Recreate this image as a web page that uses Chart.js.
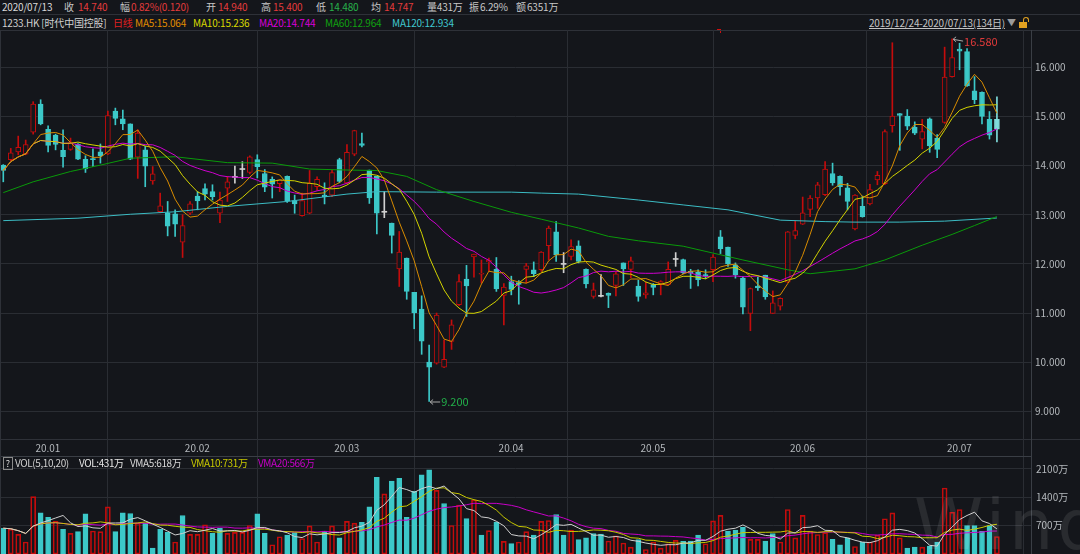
<!DOCTYPE html>
<html>
<head>
<meta charset="utf-8">
<title>1233.HK 时代中国控股 日线</title>
<script src="https://cdn.jsdelivr.net/npm/chart.js@4.4.1/dist/chart.umd.min.js"></script>
<style>
  body { margin: 0; background: #14161b; }
  #wrap { position: relative; width: 1080px; height: 554px; overflow: hidden; background: #14161b;
          font-family: "Noto Sans CJK SC", sans-serif; font-size: 10px; color: #c8c8c8; }
  .t { position: absolute; white-space: nowrap; line-height: 14px; letter-spacing: -0.2px; }
  .hl { position: absolute; left: 0; width: 1080px; height: 1px; background: #2e3138; }
  .r { color: #e23b3b; }
  .g { color: #27b04a; }
  canvas { position: absolute; left: 0; }
</style>
</head>
<body>
<div id="wrap">
  <!-- header row 1 -->
  <div class="t" style="top:0;left:2px;color:#d8d8d8">2020/07/13</div>
  <div class="t" style="top:0;left:64px">收</div>
  <div class="t r" style="top:0;left:78px">14.740</div>
  <div class="t" style="top:0;left:120px">幅</div>
  <div class="t r" style="top:0;left:131px">0.82%(0.120)</div>
  <div class="t" style="top:0;left:206px">开</div>
  <div class="t r" style="top:0;left:218px">14.940</div>
  <div class="t" style="top:0;left:261px">高</div>
  <div class="t r" style="top:0;left:273px">15.400</div>
  <div class="t" style="top:0;left:316px">低</div>
  <div class="t g" style="top:0;left:329px">14.480</div>
  <div class="t" style="top:0;left:371px">均</div>
  <div class="t r" style="top:0;left:384px">14.747</div>
  <div class="t" style="top:0;left:427px">量431万</div>
  <div class="t" style="top:0;left:469px">振</div>
  <div class="t" style="top:0;left:480px">6.29%</div>
  <div class="t" style="top:0;left:516px">额</div>
  <div class="t" style="top:0;left:527px">6351万</div>
  <div class="hl" style="top:14px"></div>

  <!-- header row 2 -->
  <div class="t" style="top:16px;left:2px;color:#d0d0d0">1233.HK [时代中国控股]</div>
  <div class="t" style="top:16px;left:113px;color:#e02020">日线</div>
  <div class="t" style="top:16px;left:135px;color:#e08c00">MA5:15.064</div>
  <div class="t" style="top:16px;left:193px;color:#d8d800">MA10:15.236</div>
  <div class="t" style="top:16px;left:259px;color:#d800d8">MA20:14.744</div>
  <div class="t" style="top:16px;left:325px;color:#10a010">MA60:12.964</div>
  <div class="t" style="top:16px;left:392px;color:#40c8d0">MA120:12.934</div>
  <div class="t" style="top:16px;left:869px;color:#c4c4c4;text-decoration:underline">2019/12/24-2020/07/13(134日)</div>
  <div class="t" style="top:16px;left:1007px;color:#9a9a9a;font-size:9px">▼</div>
  <div style="position:absolute;left:1023px;top:17px;width:4px;height:4px;border:1.5px solid #e0a020;border-bottom:none;border-radius:3px 3px 0 0"></div>
  <div style="position:absolute;left:1019px;top:22px;width:8px;height:6px;background:#e0a020"></div>
  <div style="position:absolute;left:717px;top:29px;width:4px;height:1px;background:#d01010"></div>
  <div style="position:absolute;left:720px;top:29px;width:1px;height:4px;background:#d01010"></div>
  <div class="hl" style="top:30px"></div>

  <canvas id="kline" width="1080" height="409" style="top:30px"></canvas>
  <div class="hl" style="top:439px"></div>
  <div style="position:absolute;left:1031px;top:439px;width:1px;height:17px;background:#3a3e45"></div>

  <canvas id="vol" width="1080" height="115" style="top:439px"></canvas>

  <!-- volume legend -->
  <div style="position:absolute;left:3px;top:457px;width:8px;height:11px;border:1px solid #8a8a8a;color:#e0e0e0;font-size:9px;line-height:11px;text-align:center">?</div>
  <div class="t" style="top:456px;left:15px;color:#d0d0d0;letter-spacing:-0.4px">VOL(5,10,20)</div>
  <div class="t" style="top:456px;left:79px;color:#e6e6e6;letter-spacing:-0.4px">VOL:431万</div>
  <div class="t" style="top:456px;left:130px;color:#d8d8d8;letter-spacing:-0.4px">VMA5:618万</div>
  <div class="t" style="top:456px;left:191px;color:#c8c800;letter-spacing:-0.4px">VMA10:731万</div>
  <div class="t" style="top:456px;left:258px;color:#c800c8;letter-spacing:-0.4px">VMA20:566万</div>

  <div style="position:absolute;left:914px;top:490px;font-family:'DejaVu Sans',sans-serif;font-size:70px;line-height:70px;color:rgba(255,255,255,0.09);letter-spacing:4px">Wind</div>
  <div style="position:absolute;left:0;top:30px;width:1px;height:524px;background:#2e3138"></div>
</div>

<script>
// month ticks (first trading day of each month)
const monthLabels = ['20.01', '20.02', '20.03', '20.04', '20.05', '20.06', '20.07'];
const monthStart = [4, 24, 44, 66, 85, 105, 126];
const priceTicks = [9, 10, 11, 12, 13, 14, 15, 16];
const volTicks = [700, 1400, 2100];

// daily prices, 2019/12/24 - 2020/07/13 (134 days)
const opens = [14.01,14.12,14.28,14.23,14.68,15.25,14.74,14.62,14.31,14.33,14.44,14.13,14.14,14.28,14.24,15.11,14.95,14.85,14.17,14.32,
  13.69,13.06,13.04,13.02,12.44,13.03,13.38,13.53,13.47,13.03,13.54,13.76,13.92,13.86,14.12,13.84,13.72,13.63,13.78,13.29,
  12.98,13.03,13.57,13.40,13.40,14.12,13.65,14.23,14.45,13.91,13.78,13.05,12.83,11.90,12.12,11.42,11.08,10.00,9.98,9.90,
  10.42,11.17,11.69,12.14,11.79,12.04,11.89,11.36,11.64,11.62,11.89,11.88,11.88,12.37,12.65,11.99,12.15,12.37,11.89,11.34,
  11.34,11.40,11.56,12.02,11.89,11.55,11.37,11.58,11.58,11.58,12.09,12.09,11.85,11.83,11.78,11.88,12.55,12.34,11.98,11.71,
  10.99,11.55,11.77,10.99,11.14,11.63,12.58,12.81,13.11,13.34,13.41,13.84,13.78,13.55,12.71,13.17,13.22,13.71,13.63,14.81,
  15.06,15.01,14.78,14.54,14.95,14.56,14.88,15.81,16.37,16.32,15.52,15.49,14.94,14.94];
const highs = [14.02,14.35,14.60,14.52,15.30,15.34,14.81,14.64,14.73,14.56,14.45,14.20,14.34,14.44,15.11,15.17,15.13,14.85,14.73,14.39,
  13.98,13.44,13.27,13.10,13.00,13.27,13.47,13.63,13.61,13.46,13.78,13.99,14.08,14.20,14.22,13.92,13.77,13.71,13.79,13.40,
  13.44,13.90,13.77,13.65,13.91,14.15,14.43,14.72,14.66,13.91,13.78,13.47,12.83,12.66,12.12,11.42,11.35,10.35,11.00,10.45,
  10.86,11.78,11.97,12.20,12.08,12.12,12.13,11.60,11.75,11.66,12.01,12.04,12.25,12.77,12.86,12.23,12.49,12.47,11.90,11.61,
  11.78,11.41,11.84,12.02,12.14,11.67,11.63,11.60,11.66,12.04,12.23,12.10,11.89,11.88,11.88,12.19,12.68,12.34,12.02,11.74,
  11.51,11.73,11.77,11.45,11.31,12.66,12.87,13.36,13.39,13.66,14.08,14.05,13.79,13.64,13.41,13.38,13.62,13.88,14.73,16.50,
  15.06,15.14,14.89,14.94,14.97,14.63,16.41,16.58,16.49,16.38,15.81,15.50,15.10,15.40];
const lows = [13.67,14.10,14.22,14.22,14.64,14.83,14.28,14.32,13.97,14.31,14.12,13.86,13.98,14.05,14.22,14.83,14.73,14.12,13.74,13.57,
  13.62,13.04,12.57,12.56,12.13,13.00,13.10,13.30,13.30,12.84,13.27,13.64,13.74,13.83,13.75,13.47,13.34,13.47,13.25,13.03,
  12.97,13.02,13.50,13.22,13.37,13.65,13.63,14.20,14.38,13.23,12.61,12.94,12.22,11.54,11.28,10.68,10.16,9.20,9.96,9.89,
  10.26,11.15,10.93,11.73,11.61,11.85,11.44,10.76,11.37,11.18,11.61,11.74,11.85,12.08,12.05,11.82,12.08,12.02,11.51,11.30,
  11.33,11.11,11.35,11.56,11.72,11.24,11.30,11.37,11.37,11.57,11.95,11.80,11.50,11.55,11.70,11.64,12.21,11.95,11.71,10.98,
  10.64,11.46,11.28,10.99,11.06,11.62,12.51,12.80,12.96,13.13,13.39,13.60,13.40,13.10,12.69,12.95,13.20,13.61,13.61,14.68,
  14.31,14.73,14.63,14.34,14.27,14.16,14.86,15.80,15.95,15.61,15.26,14.85,14.54,14.48];
const closes = [13.90,14.26,14.37,14.43,15.25,14.85,14.41,14.43,14.18,14.47,14.13,13.93,14.12,14.20,15.02,14.96,14.85,14.13,14.66,13.99,
  13.83,13.18,12.77,12.81,12.78,13.22,13.28,13.42,13.37,13.30,13.67,13.76,13.92,14.18,13.98,13.56,13.62,13.71,13.28,13.22,
  13.29,13.64,13.72,13.37,13.86,13.68,14.27,14.71,14.41,13.34,13.03,13.05,12.58,12.24,11.44,11.00,10.43,9.90,10.96,10.06,
  10.76,11.64,11.55,12.20,11.80,12.07,11.49,11.53,11.48,11.58,11.96,11.80,12.24,12.73,12.19,11.99,12.35,12.05,11.59,11.47,
  11.34,11.36,11.80,11.90,12.06,11.34,11.41,11.52,11.64,11.89,12.09,11.82,11.81,11.68,11.75,12.14,12.31,12.00,11.78,11.12,
  11.50,11.51,11.33,11.21,11.30,12.65,12.68,13.04,13.34,13.61,13.93,13.65,13.57,13.27,13.40,12.96,13.51,13.80,14.69,15.01,
  15.02,14.80,14.66,14.69,14.40,14.33,15.80,16.20,16.33,15.62,15.34,15.00,14.62,14.74];
// volume, 万股
const vols = [635,610,483,296,1414,1016,906,805,610,508,550,991,567,550,1160,550,1016,999,762,762,
  144,610,534,296,949,483,483,720,508,635,508,534,534,703,991,508,229,424,466,525,
  381,695,296,567,695,398,805,762,779,1160,1889,1482,1796,1863,906,1542,1948,2075,1567,1245,
  703,1203,872,1330,466,576,788,313,254,296,550,466,805,826,969,464,590,354,396,506,
  489,320,447,270,169,354,110,295,143,253,337,312,320,464,253,818,953,565,590,658,
  362,362,320,506,295,1096,396,953,565,480,523,362,228,396,185,295,295,464,868,1012,
  396,143,169,169,194,295,1627,1028,1096,700,700,560,700,431];

// long averages (they need history before the window)
const ma60Idx = [0,4,9,13,17,23,30,36,41,46,50,54,58,63,68,72,77,81,85,91,99,105,108,114,118,123,127,130,133];
const ma60Val = [13.45,13.67,13.88,14.01,14.15,14.18,14.06,14.05,13.93,13.91,13.90,13.78,13.51,13.27,13.05,12.91,12.73,12.56,12.47,12.36,
  12.08,11.88,11.80,11.90,12.08,12.38,12.60,12.78,12.964];
const ma120Idx = [0,10,17,23,30,38,46,50,58,68,72,77,85,91,97,104,110,114,120,126,133];
const ma120Val = [12.88,12.93,13.01,13.06,13.17,13.27,13.42,13.47,13.46,13.46,13.44,13.42,13.30,13.20,13.10,12.89,12.86,12.85,12.85,12.87,12.934];

const RED = '#c40c0c';
const CYAN = '#3cc8c8';
const CYAN_SEL = '#7fdcdc';
const DOJI = '#d0d0d0';
const BG = '#14161b';
const GRID = '#2a2d33';
const AXIS = '#3a3e45';
const TXT = '#b4b8bc';
const selected = closes.length - 1;

Chart.defaults.font.family = '"Noto Sans CJK SC", sans-serif';
Chart.defaults.font.size = 10;

function movingAvg(src, n) {
  return src.map((v, i) => {
    const win = src.slice(Math.max(0, i - n + 1), i + 1);
    return win.reduce((a, b) => a + b, 0) / win.length;
  });
}

function pts(arr) { return arr.map((v, i) => ({ x: i, y: v })); }

function candleColor(i) {
  if (closes[i] > opens[i]) return RED;
  if (closes[i] < opens[i]) return i === selected ? CYAN_SEL : CYAN;
  return DOJI;
}

// volume colour follows the change against the previous close
function volUp(i) {
  return i === 0 ? closes[0] > opens[0] : closes[i] >= closes[i - 1];
}

function maLine(data, color) {
  return { type: 'line', data: data, borderColor: color, borderWidth: 1, pointRadius: 0, tension: 0, order: 0 };
}

// max / min price marks
const extremes = {
  id: 'extremes',
  afterDatasetsDraw(chart) {
    const { ctx, scales: { x, y } } = chart;
    const hi = highs.indexOf(Math.max(...highs));
    const lo = lows.indexOf(Math.min(...lows));
    mark(ctx, x.getPixelForValue(hi), y.getPixelForValue(highs[hi]), highs[hi].toFixed(3), '#e03a3a', 3);
    mark(ctx, x.getPixelForValue(lo), y.getPixelForValue(lows[lo]), lows[lo].toFixed(3), '#22b04a', 0);
  }
};

function mark(ctx, px, py, text, color, dy) {
  ctx.save();
  ctx.strokeStyle = '#a8a8a8';
  ctx.lineWidth = 1;
  ctx.beginPath();
  ctx.moveTo(px + 1, py + 0.5);
  ctx.lineTo(px + 11, py + 0.5 + dy * 0.6);
  ctx.moveTo(px + 4, py - 2);
  ctx.lineTo(px + 1, py + 0.5);
  ctx.lineTo(px + 4, py + 3);
  ctx.stroke();
  ctx.fillStyle = color;
  ctx.font = '11px "Noto Sans CJK SC", sans-serif';
  ctx.textBaseline = 'middle';
  ctx.fillText(text, px + 12, py + dy);
  ctx.restore();
}

const ma5 = movingAvg(closes, 5);
const ma10 = movingAvg(closes, 10);
const ma20 = movingAvg(closes, 20);

new Chart(document.getElementById('kline'), {
  type: 'bar',
  data: {
    datasets: [
      maLine(pts(ma5), '#d98c00'),
      maLine(pts(ma10), '#d4d400'),
      maLine(pts(ma20), '#d000d0'),
      maLine(ma60Idx.map((v, k) => ({ x: v, y: ma60Val[k] })), '#0a9a0a'),
      maLine(ma120Idx.map((v, k) => ({ x: v, y: ma120Val[k] })), '#3cbcc4'),
      {
        data: closes.map((c, i) => ({ x: i, y: [opens[i], c] })),
        backgroundColor: ctx => closes[ctx.dataIndex] > opens[ctx.dataIndex] ? BG : candleColor(ctx.dataIndex),
        borderColor: ctx => candleColor(ctx.dataIndex),
        borderWidth: ctx => closes[ctx.dataIndex] === opens[ctx.dataIndex] ? 0 : 1,
        borderSkipped: false,
        barThickness: 5,
        minBarLength: 1,
        grouped: false,
        order: 1
      },
      {
        data: highs.map((h, i) => ({ x: i, y: [lows[i], h] })),
        backgroundColor: ctx => candleColor(ctx.dataIndex),
        barThickness: 1,
        grouped: false,
        order: 2
      }
    ]
  },
  options: {
    responsive: false,
    animation: false,
    events: [],
    layout: { padding: 0 },
    plugins: { legend: { display: false }, tooltip: { enabled: false } },
    scales: {
      x: {
        type: 'linear', min: -0.44, max: 137.56, offset: false,
        afterBuildTicks: a => { a.ticks = monthStart.map(v => ({ value: v })); },
        ticks: { display: false },
        grid: { color: GRID, drawTicks: false },
        border: { display: false },
        afterFit: a => { a.height = 0; a.paddingLeft = 0; a.paddingRight = 0; }
      },
      y: {
        type: 'linear', position: 'right', min: 8.437, max: 16.759,
        afterBuildTicks: a => { a.ticks = priceTicks.map(v => ({ value: v })); },
        ticks: { color: TXT, padding: 4, callback: v => v.toFixed(3) },
        grid: { color: GRID, drawTicks: false },
        border: { color: AXIS },
        afterFit: a => { a.width = 49; a.paddingTop = 0; a.paddingBottom = 0; }
      }
    }
  },
  plugins: [extremes]
});

new Chart(document.getElementById('vol'), {
  type: 'bar',
  data: {
    datasets: [
      maLine(pts(movingAvg(vols, 5)), '#d0d0d0'),
      maLine(pts(movingAvg(vols, 10)), '#c8c800'),
      maLine(pts(movingAvg(vols, 20)), '#c800c8'),
      {
        data: pts(vols),
        backgroundColor: ctx => volUp(ctx.dataIndex) ? 'rgba(0,0,0,0)' : (ctx.dataIndex === selected ? CYAN_SEL : CYAN),
        borderColor: ctx => volUp(ctx.dataIndex) ? RED : (ctx.dataIndex === selected ? CYAN_SEL : CYAN),
        borderWidth: 1,
        borderSkipped: false,
        barThickness: 5,
        grouped: false,
        order: 1
      }
    ]
  },
  options: {
    responsive: false,
    animation: false,
    events: [],
    layout: { padding: 0 },
    plugins: { legend: { display: false }, tooltip: { enabled: false } },
    scales: {
      x: {
        type: 'linear', position: 'top', min: -0.44, max: 137.56, offset: false,
        afterBuildTicks: a => { a.ticks = monthStart.map(v => ({ value: v })); },
        ticks: { color: TXT, align: 'start', padding: -15, autoSkip: false, maxRotation: 0,
                 callback: (v, i) => ' ' + monthLabels[i] },
        grid: { color: GRID, tickColor: GRID, tickLength: 17 },
        border: { color: AXIS },
        afterFit: a => { a.height = 17; a.paddingLeft = 0; a.paddingRight = 0; }
      },
      y: {
        type: 'linear', position: 'right', min: 0, max: 2415,
        afterBuildTicks: a => { a.ticks = volTicks.map(v => ({ value: v })); },
        ticks: { color: TXT, padding: 5, callback: v => v + '万' },
        grid: { color: GRID, drawTicks: false },
        border: { color: AXIS },
        afterFit: a => { a.width = 49; a.paddingTop = 0; a.paddingBottom = 0; }
      }
    }
  }
});
</script>
</body>
</html>
